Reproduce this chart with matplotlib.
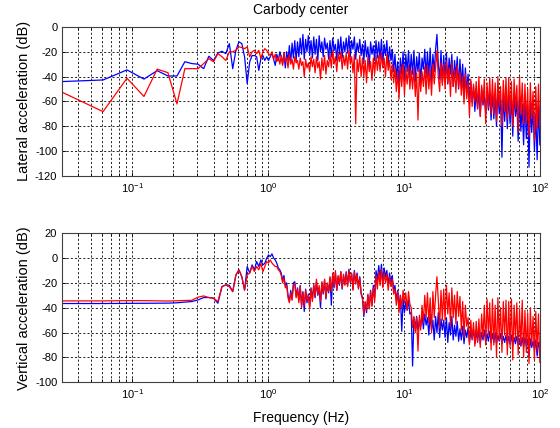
import numpy as np
import matplotlib
matplotlib.use("Agg")
import matplotlib.pyplot as plt
from matplotlib.ticker import LogLocator, NullFormatter

plt.rcParams['font.family'] = ['Liberation Sans', 'DejaVu Sans']
plt.rcParams['axes.unicode_minus'] = False

# frequency resolution of the spectra (Hz)
df = 1 / 32.768

# ---- low frequency part: one value per spectral line, k = 1..40 ----
lat_blue_low = [-44, -42.7, -34.6, -42, -35.2, -39.5, -39.5, -28, -29.5, -30,
                -33.6, -23.6, -27, -21, -19.6, -21.5, -13.4, -33.6, -18.8, -12,
                -13.4, -24, -45.6, -28, -23, -23, -24, -35, -25.5, -23,
                -27, -24, -27, -24, -21, -26, -31, -22, -27, -20]
lat_red_low = [-52.6, -68.2, -41.3, -56, -34, -36.8, -62, -33.6, -33.6, -33.6,
               -29.5, -25.5, -28, -21.5, -24, -27, -20, -20, -18.8, -16,
               -16.6, -17.5, -16, -24, -20, -18.8, -21.5, -18.8, -25.5, -20,
               -17.5, -18.8, -21.5, -23, -20, -26, -22, -28, -24, -30]
vert_blue_low = [-36.6, -36.6, -36.5, -36.4, -36.4, -36.3, -36, -35.5, -35, -33.7,
                 -31.8, -31.8, -32.3, -36.4, -23, -21.6, -22, -27, -13.6, -9.5,
                 -15, -25.6, -6.8, -12, -5.5, -9.5, -2.8, -6.8, -1.5, -5.5,
                 -4.2, -0.1, 2.5, 1.2, 3.4, 0, -1.5, -4.2, -8, -9.5]
vert_red_low = [-34.5, -34.5, -34.3, -34.3, -34.5, -34.6, -34.4, -34.2, -34, -31.5,
                -30.5, -31.8, -32.3, -35, -23, -21.6, -23, -27, -13.6, -9.5,
                -15, -26, -13.5, -12, -6.8, -10.8, -6.8, -9.5, -4.2, -11,
                -6.8, -2.8, -4, -1.5, -4, -5.5, -6.8, -6.8, -9.5, -10.8]

# ---- dense part, 1.25 .. 100 Hz, 16 rows of 12 values (log spaced) ----
lat_blue_hi = [
    -24, -30, -21, -33, -20, -27, -15, -29, -13, -25, -11, -27,
    -12, -24, -9, -22, -6, -26, -10, -20, -7, -23, -11, -25,
    -8, -22, -10, -27, -7, -20, -12, -24, -9, -18, -13, -26,
    -11, -24, -9, -19, -14, -27, -10, -22, -8, -25, -12, -20,
    -9, -21, -7, -24, -11, -18, -8, -26, -13, -20, -10, -23,
    -14, -28, -11, -24, -16, -31, -12, -22, -15, -27, -11, -25,
    -12, -26, -10, -29, -14, -23, -11, -31, -16, -27, -18, -36,
    -22, -42, -28, -48, -25, -38, -20, -44, -22, -36, -19, -40,
    -22, -38, -19, -44, -24, -36, -21, -46, -25, -34, -18, -40,
    -20, -40, -17, -44, -22, -36, -18, -6, -30, -42, -19, -45,
    -23, -42, -21, -46, -25, -38, -22, -48, -27, -40, -24, -50,
    -26, -47, -30, -55, -33, -52, -38, -62, -44, -60, -48, -68,
    -50, -66, -52, -72, -49, -63, -55, -70, -51, -67, -54, -75,
    -52, -74, -55, -80, -51, -70, -58, -105, -53, -76, -56, -82,
    -54, -78, -57, -88, -53, -72, -60, -92, -56, -84, -62, -95,
    -58, -90, -62, -113, -60, -85, -65, -100, -70, -107, -63, -95]
lat_red_hi = [
    -23, -31, -21, -28, -25, -33, -22, -30, -26, -34, -24, -29,
    -27, -34, -25, -31, -28, -40, -26, -33, -29, -36, -24, -32,
    -26, -37, -24, -33, -28, -42, -25, -35, -23, -38, -27, -32,
    -22, -33, -19, -30, -24, -36, -21, -28, -20, -34, -23, -31,
    -21, -34, -19, -30, -24, -37, -22, -78, -26, -36, -23, -40,
    -25, -40, -27, -45, -24, -36, -28, -43, -25, -38, -23, -35,
    -23, -36, -21, -33, -25, -40, -22, -35, -27, -42, -30, -45,
    -33, -52, -36, -58, -32, -48, -30, -55, -34, -46, -31, -50,
    -35, -50, -33, -56, -37, -75, -34, -52, -36, -48, -32, -54,
    -31, -50, -34, -55, -30, -46, -33, -19, -40, -52, -29, -47,
    -30, -50, -28, -45, -33, -56, -29, -48, -35, -53, -31, -49,
    -36, -55, -40, -62, -38, -58, -44, -72, -42, -64, -46, -60,
    -44, -66, -40, -72, -47, -62, -42, -78, -45, -65, -41, -70,
    -42, -70, -45, -76, -40, -64, -48, -80, -43, -68, -41, -74,
    -41, -72, -44, -80, -42, -66, -47, -84, -40, -70, -45, -78,
    -46, -78, -50, -88, -45, -74, -52, -92, -48, -82, -46, -80]
vert_blue_hi = [
    -12, -18, -14, -22, -20, -30, -35, -26, -33, -20, -19, -31,
    -24, -34, -22, -38, -27, -43, -25, -36, -29, -39, -24, -33,
    -22, -32, -19, -30, -24, -40, -20, -29, -18, -33, -21, -28,
    -16, -38, -13, -24, -12, -26, -15, -22, -11, -25, -14, -21,
    -11, -22, -9, -19, -13, -25, -10, -20, -12, -24, -15, -28,
    -32, -47, -36, -44, -30, -40, -26, -38, -22, -32, -10, -18,
    -6, -16, -5, -19, -8, -15, -10, -22, -12, -20, -14, -26,
    -22, -34, -26, -40, -30, -59, -33, -44, -35, -42, -34, -45,
    -44, -87, -48, -56, -47, -58, -50, -55, -46, -57, -45, -54,
    -48, -62, -45, -58, -50, -66, -47, -60, -44, -64, -49, -58,
    -50, -64, -48, -68, -52, -62, -47, -66, -54, -63, -51, -67,
    -57, -66, -55, -69, -58, -64, -56, -68, -59, -65, -57, -69,
    -59, -67, -58, -69, -60, -66, -58, -68, -61, -67, -59, -68,
    -61, -68, -60, -69, -62, -67, -61, -69, -63, -68, -62, -70,
    -63, -69, -62, -71, -64, -69, -63, -70, -65, -71, -64, -72,
    -64, -71, -66, -80, -65, -72, -67, -74, -66, -79, -68, -73]
vert_red_hi = [
    -14, -20, -16, -24, -22, -32, -36, -28, -34, -22, -21, -32,
    -25, -36, -23, -40, -28, -38, -26, -34, -30, -41, -25, -35,
    -21, -31, -17, -29, -22, -35, -19, -28, -17, -32, -20, -27,
    -15, -27, -12, -23, -10, -26, -14, -21, -11, -24, -13, -22,
    -12, -23, -10, -20, -12, -26, -11, -21, -13, -25, -16, -29,
    -33, -45, -35, -42, -29, -41, -27, -39, -24, -35, -14, -25,
    -11, -22, -9, -24, -12, -20, -13, -26, -15, -23, -17, -29,
    -25, -38, -27, -44, -30, -40, -26, -36, -28, -42, -27, -37,
    -40, -56, -47, -60, -48, -75, -46, -58, -38, -52, -30, -48,
    -28, -52, -32, -60, -27, -48, -30, -15, -34, -56, -26, -50,
    -25, -50, -22, -45, -28, -55, -24, -48, -30, -53, -27, -47,
    -31, -58, -35, -64, -38, -55, -48, -70, -50, -66, -52, -71,
    -51, -68, -49, -72, -45, -64, -38, -70, -33, -62, -36, -74,
    -33, -70, -38, -80, -32, -66, -40, -76, -35, -62, -34, -78,
    -35, -72, -33, -82, -38, -65, -36, -78, -41, -70, -34, -80,
    -42, -76, -44, -85, -40, -70, -47, -82, -43, -74, -45, -84]

f_low = df * np.arange(1, len(lat_blue_low) + 1)
f_hi = np.geomspace(1.25, 100, len(lat_blue_hi))
freq = np.concatenate([f_low, f_hi])

fig = plt.figure(figsize=(5.6, 4.28), dpi=100)
ax1 = fig.add_axes([0.111, 0.589, 0.853, 0.348])
ax2 = fig.add_axes([0.111, 0.107, 0.853, 0.348])

panels = [
    (ax1, lat_blue_low + lat_blue_hi, lat_red_low + lat_red_hi,
     'Lateral acceleration (dB)', (-120, 0), np.arange(-120, 1, 20)),
    (ax2, vert_blue_low + vert_blue_hi, vert_red_low + vert_red_hi,
     'Vertical acceleration (dB)', (-100, 20), np.arange(-100, 21, 20)),
]

for ax, blue, red, ylab, ylim, yt in panels:
    ax.semilogx(freq, blue, color='#0000ff', lw=0.9)
    ax.semilogx(freq, red, color='#ff0000', lw=0.9)
    ax.set_xlim(df, 100)
    ax.set_ylim(*ylim)
    ax.set_yticks(yt)
    ax.xaxis.set_minor_locator(LogLocator(base=10, subs=np.arange(2, 10)))
    ax.xaxis.set_minor_formatter(NullFormatter())
    ax.grid(True, which='both', axis='x', color='k', ls=(0, (2.5, 2.5)), lw=0.6)
    ax.grid(True, which='major', axis='y', color='k', ls=(0, (2.5, 2.5)), lw=0.6)
    ax.tick_params(which='both', direction='in', top=True, right=True,
                   labelsize=8, length=3, width=0.6)
    ax.tick_params(which='minor', length=2)
    for s in ax.spines.values():
        s.set_linewidth(0.8)
        s.set_color('#404040')
    ax.set_ylabel(ylab, fontsize=10.5, labelpad=3)

ax1.set_title('Carbody center', fontsize=10, pad=9)
ax2.set_xlabel('Frequency (Hz)', fontsize=10, labelpad=7)

fig.savefig('out.png', dpi=100)
